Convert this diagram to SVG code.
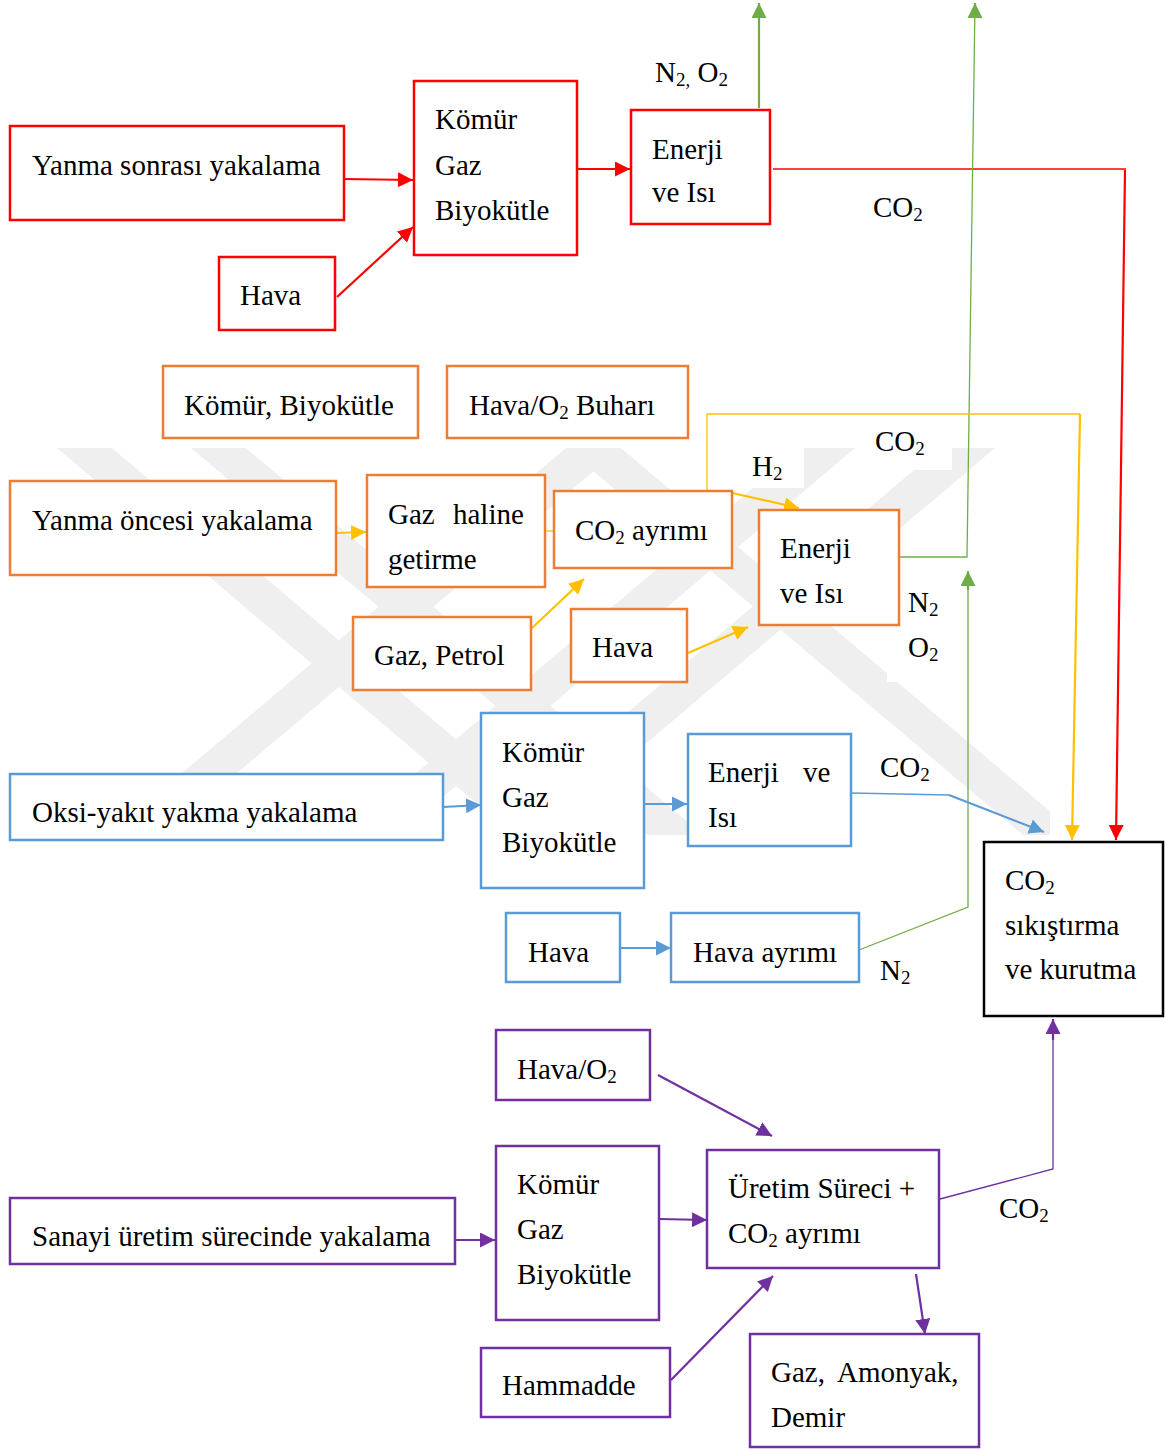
<svg xmlns="http://www.w3.org/2000/svg" width="1166" height="1450" viewBox="0 0 1166 1450">
<defs>
<style>
text{font-family:"Liberation Serif","Times New Roman",serif;font-size:29px;fill:#000}
.sub{font-size:19px}
.box{fill:#fff;stroke-width:2.5}
.r{stroke:#FF0000}.o{stroke:#ED7D31}.b{stroke:#5B9BD5}.p{stroke:#7030A0}.k{stroke:#000}
.y{stroke:#FFC000}.g{stroke:#70AD47}
.c{fill:none;stroke-width:2.2}
.t{fill:none;stroke-width:1.3}
.wm{fill:#efefef}
</style>
<clipPath id="wmclip"><rect x="40" y="448" width="1010" height="387"/></clipPath>
<marker id="mr" markerUnits="userSpaceOnUse" markerWidth="15" markerHeight="15" refX="15" refY="7.5" orient="auto"><path d="M0,0L15,7.5L0,15z" fill="#FF0000"/></marker>
<marker id="my" markerUnits="userSpaceOnUse" markerWidth="15" markerHeight="15" refX="15" refY="7.5" orient="auto"><path d="M0,0L15,7.5L0,15z" fill="#FFC000"/></marker>
<marker id="mg" markerUnits="userSpaceOnUse" markerWidth="15" markerHeight="15" refX="15" refY="7.5" orient="auto"><path d="M0,0L15,7.5L0,15z" fill="#70AD47"/></marker>
<marker id="mb" markerUnits="userSpaceOnUse" markerWidth="15" markerHeight="15" refX="15" refY="7.5" orient="auto"><path d="M0,0L15,7.5L0,15z" fill="#5B9BD5"/></marker>
<marker id="mp" markerUnits="userSpaceOnUse" markerWidth="15" markerHeight="15" refX="15" refY="7.5" orient="auto"><path d="M0,0L15,7.5L0,15z" fill="#7030A0"/></marker>
</defs>
<rect width="1166" height="1450" fill="#fff"/>

<g id="watermark" clip-path="url(#wmclip)">
<polygon class="wm" points="57,448 112,448 569,835 514,835"/>
<polygon class="wm" points="191,448 246,448 703,835 648,835"/>
<polygon class="wm" points="566,448 621,448 164,835 109,835"/>
<polygon class="wm" points="566,448 621,448 1078,835 1023,835"/>
<polygon class="wm" points="800,448 855,448 398,835 343,835"/>
<polygon class="wm" points="940,448 995,448 538,835 483,835"/>
</g>

<g id="connectors">
<!-- red -->
<line class="c r" x1="344" y1="179" x2="413" y2="180" marker-end="url(#mr)"/>
<line class="c r" x1="337" y1="297" x2="413" y2="227" marker-end="url(#mr)"/>
<line class="c r" x1="577" y1="169" x2="630" y2="169" marker-end="url(#mr)"/>
<line class="t r" x1="773" y1="169" x2="1126" y2="169"/>
<line class="c r" x1="1125" y1="170" x2="1116" y2="840" marker-end="url(#mr)"/>
<!-- green -->
<line class="c g" x1="759" y1="108" x2="759" y2="3" marker-end="url(#mg)"/>
<polyline class="t g" points="899,557 967,557 975,3" stroke-width="2"/>
<line class="c g" x1="975" y1="10" x2="975" y2="3" marker-end="url(#mg)"/>
<polyline class="t g" points="859,950 968,907 968,590"/>
<line class="c g" x1="968" y1="590" x2="968" y2="571" marker-end="url(#mg)"/>
<!-- yellow -->
<line class="c y" x1="337" y1="533" x2="366" y2="532" marker-end="url(#my)"/>
<line class="t y" x1="545" y1="531" x2="554" y2="531"/>
<line class="c y" x1="532" y1="628" x2="584" y2="579" marker-end="url(#my)"/>
<line class="c y" x1="688" y1="653" x2="748" y2="627" marker-end="url(#my)"/>
<line class="c y" x1="732" y1="493" x2="799" y2="508" marker-end="url(#my)"/>
<polyline class="t y" points="707,491 707,414 1080,414"/>
<line class="c y" x1="1080" y1="414" x2="1072" y2="840" marker-end="url(#my)"/>
<!-- blue -->
<line class="c b" x1="443" y1="807" x2="481" y2="805" marker-end="url(#mb)"/>
<line class="c b" x1="644" y1="804" x2="687" y2="804" marker-end="url(#mb)"/>
<line class="c b" x1="620" y1="948" x2="671" y2="948" marker-end="url(#mb)"/>
<line class="t b" x1="851" y1="793" x2="949" y2="795"/>
<line class="c b" x1="949" y1="795" x2="1044" y2="832" marker-end="url(#mb)"/>
<!-- purple -->
<line class="c p" x1="658" y1="1075" x2="772" y2="1136" marker-end="url(#mp)"/>
<line class="c p" x1="455" y1="1240" x2="495" y2="1240" marker-end="url(#mp)"/>
<line class="c p" x1="659" y1="1219" x2="707" y2="1220" marker-end="url(#mp)"/>
<line class="c p" x1="671" y1="1380" x2="773" y2="1276" marker-end="url(#mp)"/>
<line class="c p" x1="916" y1="1274" x2="925" y2="1334" marker-end="url(#mp)"/>
<polyline class="t p" points="940,1199 1053,1169 1053,1030"/>
<line class="c p" x1="1053" y1="1040" x2="1053" y2="1019" marker-end="url(#mp)"/>
</g>

<g id="labels">
<text x="655" y="82">N<tspan class="sub" dy="4">2,</tspan><tspan dy="-4"> O</tspan><tspan class="sub" dy="4">2</tspan></text>
<text x="873" y="217">CO<tspan class="sub" dy="4">2</tspan></text>
<rect x="742" y="448" width="62" height="40" fill="#fff"/>
<rect x="862" y="426" width="90" height="44" fill="#fff"/>
<rect x="887" y="582" width="72" height="100" fill="#fff"/>
<text x="752" y="476">H<tspan class="sub" dy="4">2</tspan></text>
<text x="875" y="451">CO<tspan class="sub" dy="4">2</tspan></text>
<text x="908" y="612">N<tspan class="sub" dy="4">2</tspan></text>
<text x="908" y="657">O<tspan class="sub" dy="4">2</tspan></text>
<text x="880" y="777">CO<tspan class="sub" dy="4">2</tspan></text>
<text x="880" y="980">N<tspan class="sub" dy="4">2</tspan></text>
<text x="999" y="1218">CO<tspan class="sub" dy="4">2</tspan></text>
</g>

<!-- red nodes -->
<g id="n-yanma-sonrasi"><rect class="box r" x="10" y="126" width="334" height="94"/><text x="32" y="175">Yanma sonrası yakalama</text></g>
<g id="n-r-yakit"><rect class="box r" x="414" y="81" width="163" height="174"/><text x="435" y="129">Kömür</text><text x="435" y="175">Gaz</text><text x="435" y="220">Biyokütle</text></g>
<g id="n-r-hava"><rect class="box r" x="219" y="257" width="116" height="73"/><text x="240" y="305">Hava</text></g>
<g id="n-r-enerji"><rect class="box r" x="631" y="110" width="139" height="114"/><text x="652" y="159">Enerji</text><text x="652" y="202">ve Isı</text></g>

<!-- orange nodes -->
<g id="n-o-komur"><rect class="box o" x="163" y="366" width="255" height="72"/><text x="184" y="415">Kömür, Biyokütle</text></g>
<g id="n-o-havao2"><rect class="box o" x="447" y="366" width="241" height="72"/><text x="469" y="415">Hava/O<tspan class="sub" dy="4">2</tspan><tspan dy="-4"> Buharı</tspan></text></g>
<g id="n-yanma-oncesi"><rect class="box o" x="10" y="481" width="326" height="94"/><text x="32" y="530">Yanma öncesi yakalama</text></g>
<g id="n-gaz-haline"><rect class="box o" x="367" y="475" width="178" height="112"/><text x="388" y="524">Gaz</text><text x="453" y="524">haline</text><text x="388" y="569">getirme</text></g>
<g id="n-co2-ayrimi"><rect class="box o" x="554" y="491" width="178" height="77"/><text x="575" y="540">CO<tspan class="sub" dy="4">2</tspan><tspan dy="-4"> ayrımı</tspan></text></g>
<g id="n-o-enerji"><rect class="box o" x="759" y="510" width="140" height="115"/><text x="780" y="558">Enerji</text><text x="780" y="603">ve Isı</text></g>
<g id="n-gaz-petrol"><rect class="box o" x="353" y="617" width="178" height="73"/><text x="374" y="665">Gaz, Petrol</text></g>
<g id="n-o-hava"><rect class="box o" x="571" y="609" width="116" height="73"/><text x="592" y="657">Hava</text></g>

<!-- blue nodes -->
<g id="n-oksi"><rect class="box b" x="10" y="774" width="433" height="66"/><text x="32" y="822">Oksi-yakıt yakma yakalama</text></g>
<g id="n-b-yakit"><rect class="box b" x="481" y="713" width="163" height="175"/><text x="502" y="762">Kömür</text><text x="502" y="807">Gaz</text><text x="502" y="852">Biyokütle</text></g>
<g id="n-b-enerji"><rect class="box b" x="688" y="734" width="163" height="112"/><text x="708" y="782">Enerji</text><text x="803" y="782">ve</text><text x="708" y="827">Isı</text></g>
<g id="n-b-hava"><rect class="box b" x="506" y="913" width="114" height="69"/><text x="528" y="962">Hava</text></g>
<g id="n-hava-ayrimi"><rect class="box b" x="671" y="913" width="188" height="69"/><text x="693" y="962">Hava ayrımı</text></g>

<!-- black node -->
<g id="n-sikistirma"><rect class="box k" x="984" y="842" width="179" height="174"/><text x="1005" y="890">CO<tspan class="sub" dy="4">2</tspan></text><text x="1005" y="935">sıkıştırma</text><text x="1005" y="979">ve kurutma</text></g>

<!-- purple nodes -->
<g id="n-p-havao2"><rect class="box p" x="496" y="1030" width="154" height="70"/><text x="517" y="1079">Hava/O<tspan class="sub" dy="4">2</tspan></text></g>
<g id="n-p-yakit"><rect class="box p" x="496" y="1146" width="163" height="174"/><text x="517" y="1194">Kömür</text><text x="517" y="1239">Gaz</text><text x="517" y="1284">Biyokütle</text></g>
<g id="n-sanayi"><rect class="box p" x="10" y="1198" width="445" height="66"/><text x="32" y="1246">Sanayi üretim sürecinde yakalama</text></g>
<g id="n-hammadde"><rect class="box p" x="481" y="1348" width="189" height="69"/><text x="502" y="1395">Hammadde</text></g>
<g id="n-uretim"><rect class="box p" x="707" y="1150" width="232" height="118"/><text x="728" y="1198">Üretim Süreci +</text><text x="728" y="1243">CO<tspan class="sub" dy="4">2</tspan><tspan dy="-4"> ayrımı</tspan></text></g>
<g id="n-gaz-amonyak"><rect class="box p" x="750" y="1334" width="229" height="113"/><text x="771" y="1382">Gaz,</text><text x="837" y="1382">Amonyak,</text><text x="771" y="1427">Demir</text></g>
</svg>
